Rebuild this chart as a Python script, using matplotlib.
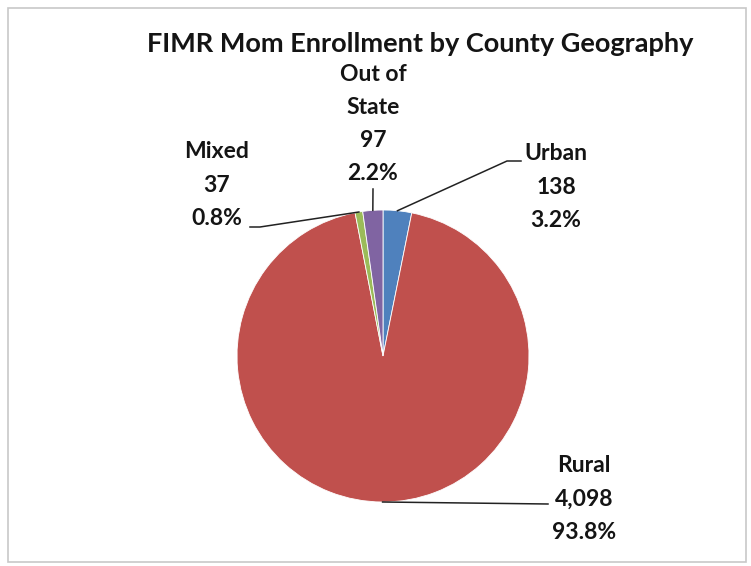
import numpy as np
import matplotlib.pyplot as plt
from matplotlib.patches import Rectangle

# Data
categories = ['Urban', 'Rural', 'Mixed', 'Out of\nState']
counts = [138, 4098, 37, 97]
pct_labels = ['3.2%', '93.8%', '0.8%', '2.2%']
colors = ['#4F81BD', '#C0504D', '#9BBB59', '#8064A2']

W, H = 751, 566
cx, cy, r = 383, 356, 146   # pie centre / radius in pixels

plt.rcParams['font.family'] = ['Lato', 'DejaVu Sans']

fig = plt.figure(figsize=(W / 100, H / 100), dpi=100)
fig.patch.set_facecolor('white')

# light grey chart frame
fig.add_artist(Rectangle((8 / W, 4 / H), 738 / W, 554 / H, transform=fig.transFigure,
                         fill=False, edgecolor='#c8c8c8', linewidth=1.2))

ax = fig.add_axes([(cx - r) / W, (H - cy - r) / H, 2 * r / W, 2 * r / H])
wedges, _ = ax.pie(counts, colors=colors, startangle=90, counterclock=False,
                   radius=1, wedgeprops=dict(edgecolor='white', linewidth=0.6))
ax.set_xlim(-1, 1)
ax.set_ylim(-1, 1)
ax.set_aspect('equal')
ax.axis('off')


def px(x, y):
    # pixel position -> data coords of the pie axes
    return (x - cx) / r, (cy - y) / r


# label text centres and leader elbows (pixels)
label_pos = [(556, 187), (584, 499), (217, 185), (373, 124)]
elbows = [[(507, 161), (521, 161)],
          [(548, 504)],
          [(260, 227), (250, 227)],
          [(373, 189)]]

for w, cat, n, p, (lx, ly), el in zip(wedges, categories, counts, pct_labels, label_pos, elbows):
    ang = np.deg2rad((w.theta1 + w.theta2) / 2)
    sx, sy = np.cos(ang), np.sin(ang)
    pts = [(sx, sy)] + [px(*e) for e in el]
    xs, ys = zip(*pts)
    ax.plot(xs, ys, color='#222222', lw=1.1, clip_on=False)
    tx, ty = px(lx, ly)
    ax.text(tx, ty, f'{cat}\n{n:,}\n{p}', ha='center', va='center', fontsize=16.5,
            fontweight='bold', color='#141414', linespacing=1.72, clip_on=False)

fig.text(420 / W, 1 - 44 / H, 'FIMR Mom Enrollment by County Geography',
         ha='center', va='center', fontsize=19.5, fontweight='bold', color='#141414')

fig.savefig('out.png', dpi=100)
